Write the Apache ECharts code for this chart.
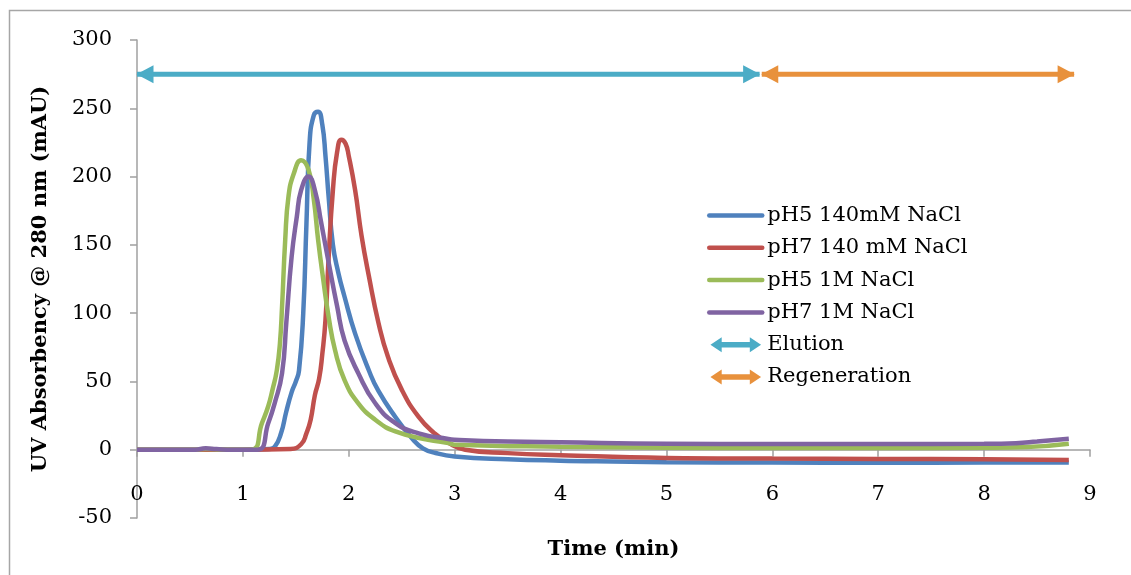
<!DOCTYPE html>
<html>
<head>
<meta charset="utf-8">
<script src="https://cdn.jsdelivr.net/npm/echarts@6/dist/echarts.min.js"></script>
<style>html,body{margin:0;padding:0;background:#fff}#c{width:1131px;height:575px}</style>
</head>
<body>
<div id="c"></div>
<script>
// ---- data ----
const seriesNames = ['pH5 140mM NaCl', 'pH7 140 mM NaCl', 'pH5 1M NaCl', 'pH7 1M NaCl'];
const arrowNames = ['Elution', 'Regeneration'];

const pH5_140_t = [0, 1.0, 1.25, 1.30, 1.36, 1.41, 1.46, 1.50, 1.53, 1.57, 1.60, 1.63, 1.67, 1.71, 1.75, 1.78, 1.81, 1.85, 1.90, 1.96, 2.06, 2.19, 2.28, 2.44, 2.60, 2.70, 2.82, 3.0, 3.5, 4, 5, 6, 7, 8, 8.8];
const pH5_140_v = [0, 0, 0.5, 2, 12, 28, 42, 50, 58, 100, 165, 225, 245, 247.5, 238, 215, 185, 150, 130, 112, 85, 58, 43, 24, 8, 1, -2.4, -4.9, -7, -8, -9.2, -9.4, -9.5, -9.4, -9.3];

const pH7_140_t = [0, 1.0, 1.45, 1.55, 1.60, 1.64, 1.68, 1.72, 1.75, 1.78, 1.81, 1.85, 1.89, 1.93, 1.97, 2.00, 2.06, 2.12, 2.19, 2.28, 2.37, 2.50, 2.66, 2.81, 2.94, 3.1, 3.5, 4, 5, 6, 7, 8, 8.8];
const pH7_140_v = [0, 0, 0.5, 4, 12, 22, 40, 52, 70, 95, 141, 190, 218, 227, 224, 215, 190, 157, 127, 93, 68, 44, 24, 12, 5, 0, -2.5, -4, -6, -6.5, -6.8, -7, -7.5];

const pH5_1M_t = [0, 0.55, 0.65, 0.8, 1.08, 1.18, 1.24, 1.28, 1.32, 1.35, 1.37, 1.40, 1.43, 1.48, 1.55, 1.62, 1.67, 1.71, 1.76, 1.81, 1.87, 1.96, 2.09, 2.25, 2.44, 2.75, 2.94, 3.0, 4, 5, 6, 7, 8, 8.4, 8.8];
const pH5_1M_v = [0, 0, 0.6, 0.2, 0, 19.5, 32, 44, 58, 78, 105, 154, 185, 202, 212, 205, 183, 154, 124, 97, 73, 51, 34, 22, 13.4, 7.3, 4.9, 3.7, 2.2, 1.5, 1.3, 1.3, 1.5, 2, 4.4];

const pH7_1M_t = [0, 0.55, 0.65, 0.75, 0.9, 1.14, 1.24, 1.30, 1.37, 1.41, 1.46, 1.51, 1.55, 1.62, 1.68, 1.74, 1.81, 1.89, 1.96, 2.09, 2.25, 2.44, 2.66, 2.94, 3.0, 3.5, 4, 5, 6, 7, 8, 8.3, 8.5, 8.8];
const pH7_1M_v = [0, 0, 1, 0.5, 0, 0, 19.5, 34, 56, 93, 141, 171, 190, 200, 190, 166, 137, 105, 80, 56, 34, 19.5, 12, 7.8, 7.3, 6, 5.4, 4.4, 4.2, 4.2, 4.3, 4.8, 6, 8];

const elutionX = [0, 5.88];
const regenerationX = [5.9, 8.85];
const arrowLevel = 275;

const xTicks = { min: 0, max: 9, interval: 1 };
const yTicks = { min: -50, max: 300, interval: 50 };

// ---- styles ----
const colors = ['#4F81BD', '#C0504D', '#9BBB59', '#8064A2'];
const arrowColors = ['#4BACC6', '#E8913C'];
const FONT = 'DejaVu Serif';
const axisGray = '#A0A0A0';

function pairs(t, v) { return t.map((x, i) => [x, v[i]]); }

function arrowData(xs) {
  return [
    { value: [xs[0], arrowLevel], symbolRotate: 90, symbolOffset: [8, 0] },
    { value: [xs[1], arrowLevel], symbolRotate: -90, symbolOffset: [-8, 0] }
  ];
}

const dblArrow = 'path://M0,8 L12,0 L12,5 L42,5 L42,0 L54,8 L42,16 L42,11 L12,11 L12,16 Z';

const curveData = [pairs(pH5_140_t, pH5_140_v), pairs(pH7_140_t, pH7_140_v), pairs(pH5_1M_t, pH5_1M_v), pairs(pH7_1M_t, pH7_1M_v)];

const series = curveData.map((d, i) => ({
  name: seriesNames[i],
  type: 'line',
  data: d,
  smooth: 0.5,
  symbol: 'none',
  lineStyle: { color: colors[i], width: 4.5 },
  itemStyle: { color: colors[i] },
  z: 3 + i
}));

[elutionX, regenerationX].forEach((xs, i) => {
  series.push({
    name: arrowNames[i],
    type: 'line',
    data: arrowData(xs),
    symbol: 'triangle',
    symbolSize: [18, 17],
    showSymbol: true,
    lineStyle: { color: arrowColors[i], width: 5 },
    itemStyle: { color: arrowColors[i] },
    z: 10
  });
});

const lineLegend = seriesNames.map((n, i) => ({
  name: n,
  itemStyle: { opacity: 0 },
  lineStyle: { width: 4.5, color: colors[i], cap: 'round' }
}));

const chart = echarts.init(document.getElementById('c'));
chart.setOption({
  animation: false,
  backgroundColor: '#fff',
  graphic: [{
    type: 'rect',
    shape: { x: 9.5, y: 10.5, width: 1200, height: 700 },
    style: { fill: 'none', stroke: '#A6A6A6', lineWidth: 1.5 },
    silent: true
  }],
  grid: { left: 137, right: 41, top: 40, bottom: 57, containLabel: false, outerBoundsMode: 'none' },
  legend: {
    orient: 'vertical',
    left: 702,
    top: 200,
    itemWidth: 53,
    itemHeight: 15,
    itemGap: 11.3,
    textStyle: { fontFamily: FONT, fontSize: 21, color: '#000' },
    data: lineLegend.concat([
      { name: arrowNames[0], icon: dblArrow },
      { name: arrowNames[1], icon: dblArrow }
    ])
  },
  xAxis: {
    type: 'value',
    min: xTicks.min, max: xTicks.max, interval: xTicks.interval,
    name: 'Time (min)',
    nameLocation: 'middle',
    nameGap: 21,
    nameTextStyle: { fontFamily: FONT, fontSize: 21, fontWeight: 'bold', color: '#000' },
    axisLine: { onZero: true, lineStyle: { color: axisGray, width: 1.5 } },
    axisTick: { show: true, inside: false, length: 7, lineStyle: { color: axisGray, width: 1.5 } },
    axisLabel: { margin: -34, fontFamily: FONT, fontSize: 21, color: '#000' },
    splitLine: { show: false }
  },
  yAxis: {
    type: 'value',
    min: yTicks.min, max: yTicks.max, interval: yTicks.interval,
    name: 'UV Absorbency @ 280 nm (mAU)',
    nameLocation: 'middle',
    nameGap: 86,
    nameRotate: 90,
    nameTextStyle: { fontFamily: FONT, fontSize: 21, fontWeight: 'bold', color: '#000' },
    axisLine: { show: true, onZero: false, lineStyle: { color: axisGray, width: 1.5 } },
    axisTick: { show: true, inside: false, length: 7, lineStyle: { color: axisGray, width: 1.5 } },
    axisLabel: { margin: 25, fontFamily: FONT, fontSize: 21, color: '#000' },
    splitLine: { show: false }
  },
  series: series
});
</script>
</body>
</html>
